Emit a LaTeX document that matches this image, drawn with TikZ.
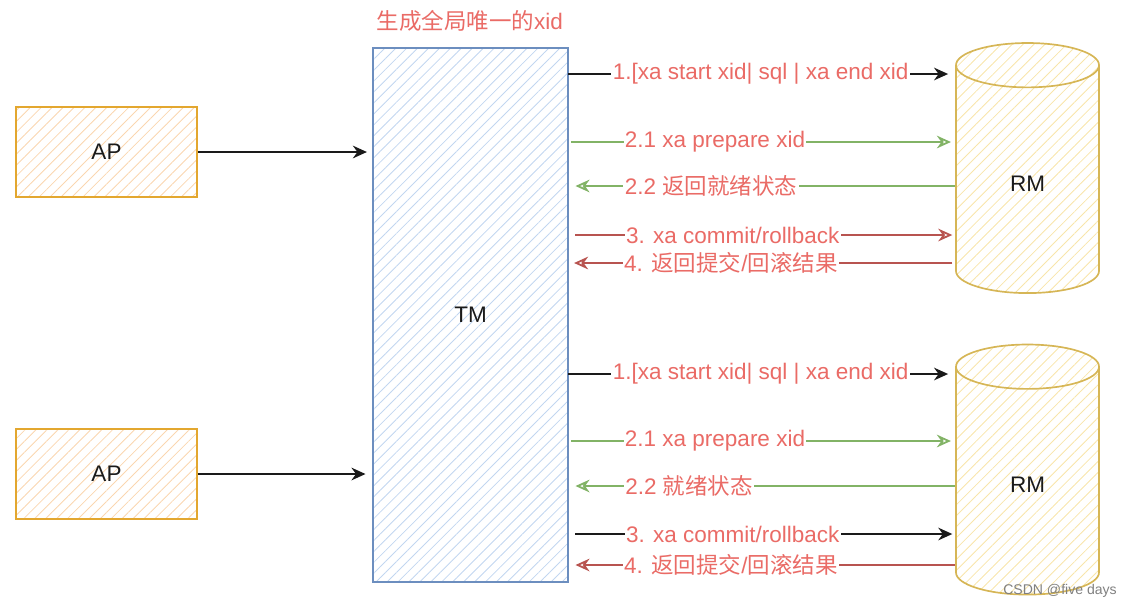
\documentclass[tikz,border=0pt]{standalone}
\usepackage{fontspec}
\setmainfont{Liberation Sans}
\newfontfamily\cjk{Noto Sans CJK SC}
\usepackage{xcolor}
\usetikzlibrary{shapes.geometric, arrows.meta, positioning, patterns.meta}
\definecolor{tmblue}{HTML}{6C8EBF}
\definecolor{tmhatch}{HTML}{C2D6F0}
\definecolor{aporange}{HTML}{E3A72F}
\definecolor{aphatch}{HTML}{FAD6B0}
\definecolor{rmgold}{HTML}{D6B656}
\definecolor{rmhatch}{HTML}{F8E5AA}
\definecolor{msggreen}{HTML}{82B366}
\definecolor{msgred}{HTML}{B85450}
\definecolor{txtred}{HTML}{EA6B66}
\definecolor{inkblack}{HTML}{1A1A1A}

\begin{document}
\begin{tikzpicture}[x=0.025cm, y=-0.025cm,
    apbox/.style={rectangle, draw=aporange, line width=1.2pt, pattern={Lines[angle=45,distance=5.5pt,line width=0.6pt]}, pattern color=aphatch, minimum width=4.525cm, minimum height=2.25cm, font=\fontsize{16}{18}\selectfont, text=inkblack},
    tmbox/.style={rectangle, draw=tmblue, line width=1.2pt, pattern={Lines[angle=45,distance=5.5pt,line width=0.6pt]}, pattern color=tmhatch, minimum width=4.875cm, minimum height=13.35cm, font=\fontsize{16}{18}\selectfont, text=inkblack},
    rmdb/.style={cylinder, shape border rotate=90, aspect=1.0, draw=rmgold, line width=1.2pt, pattern={Lines[angle=45,distance=5.5pt,line width=0.6pt]}, pattern color=rmhatch, minimum width=3.575cm, minimum height=6.25cm, font=\fontsize{16}{18}\selectfont, text=inkblack},
    lbl/.style={fill=white, inner sep=1pt, text=txtred, font=\fontsize{16}{18}\selectfont},
    blk/.style={line width=1.3pt, draw=inkblack, -{Stealth[length=10pt,width=9pt]}},
    grn/.style={line width=1.3pt, draw=msggreen, -{Stealth[open,length=10pt,width=9pt]}},
    rd/.style={line width=1.3pt, draw=msgred, -{Stealth[open,length=10pt,width=9pt]}}
]
    \useasboundingbox (0,0) rectangle (1132,608);

    \node[lbl, anchor=west] (xidlbl) at (375,21) {{\cjk 生成全局唯一的}xid};
    \node[tmbox] (tm) at (470.5,315) {TM};
    \node[apbox] (ap1) at (106.5,152) {AP};
    \node[apbox] (ap2) at (106.5,474) {AP};
    \node[rmdb] (rm1) at (1027.5,183.5) {RM};
    \node[rmdb] (rm2) at (1027.5,485) {RM};

    \draw[blk, shorten >=4] (ap1.east) -- (tm.west |- ap1.east);
    \draw[blk, shorten >=5] (ap2.east) -- (tm.west |- ap2.east);

    \draw[blk, shorten >=5] (tm.east |- 0,74) -- node[lbl, pos=0.497] {1.[xa start xid| sql | xa end xid} (rm1.west |- 0,74);
    \draw[grn, shorten <=2, shorten >=3] (tm.east |- 0,142) -- node[lbl, pos=0.379] {2.1 xa prepare xid} (rm1.west |- 0,142);
    \draw[grn, shorten >=5] (rm1.west |- 0,186) -- node[lbl, pos=0.631] {2.2 {\cjk 返回就绪状态}} (tm.east |- 0,186);
    \draw[rd, shorten <=5, shorten >=2] (tm.east |- 0,235) -- node[lbl, pos=0.425] {3. xa commit/rollback} (rm1.west |- 0,235);
    \draw[rd, shorten <=2, shorten >=4] (rm1.west |- 0,263) -- node[lbl, pos=0.58] {4. {\cjk 返回提交}/{\cjk 回滚结果}} (tm.east |- 0,263);

    \draw[blk, shorten >=5] (tm.east |- 0,374) -- node[lbl, pos=0.497] {1.[xa start xid| sql | xa end xid} (rm2.west |- 0,374);
    \draw[grn, shorten <=2, shorten >=3] (tm.east |- 0,441) -- node[lbl, pos=0.379] {2.1 xa prepare xid} (rm2.west |- 0,441);
    \draw[grn, shorten >=5] (rm2.west |- 0,486) -- node[lbl, pos=0.688] {2.2 {\cjk 就绪状态}} (tm.east |- 0,486);
    \draw[blk, shorten <=5, shorten >=2] (tm.east |- 0,534) -- node[lbl, pos=0.425] {3. xa commit/rollback} (rm2.west |- 0,534);
    \draw[rd, shorten >=5] (rm2.west |- 0,565) -- node[lbl, pos=0.58] {4. {\cjk 返回提交}/{\cjk 回滚结果}} (tm.east |- 0,565);

    \node[text=gray, font=\fontsize{10}{12}\selectfont] (mark) at (1060,591) {CSDN @five days};
\end{tikzpicture}
\end{document}
